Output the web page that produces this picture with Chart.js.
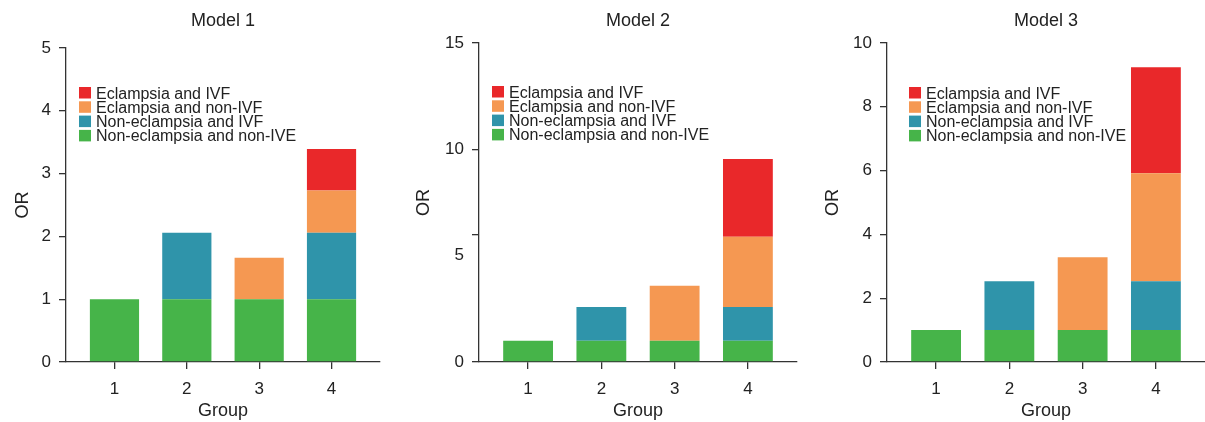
<!DOCTYPE html>
<html><head><meta charset="utf-8">
<script src="https://cdn.jsdelivr.net/npm/chart.js@4.4.1/dist/chart.umd.min.js"></script>
<style>
html,body{margin:0;padding:0;background:#fff;}
#wrap{position:relative;width:1205px;height:422px;overflow:hidden;background:#fff;}
canvas{position:absolute;top:0;}
</style></head><body>
<div id="wrap">
<canvas id="c1" width="400" height="422" style="left:0px"></canvas>
<canvas id="c2" width="400" height="422" style="left:400px"></canvas>
<canvas id="c3" width="405" height="422" style="left:800px"></canvas>
</div>
<script>
// ---- data ----
const groups = [1, 2, 3, 4];
const seriesNames = ['Non-eclampsia and non-IVE', 'Non-eclampsia and IVF', 'Eclampsia and non-IVF', 'Eclampsia and IVF'];
const seriesColors = ['#46b449', '#2f94aa', '#f59852', '#e9282a'];
const modelTitles = ['Model 1', 'Model 2', 'Model 3'];

// Model 1 stacked segments
const m1Green = [1, 1, 1, 1];
const m1Teal = [0, 1.06, 0, 1.06];
const m1Orange = [0, 0, 0.66, 0.67];
const m1Red = [0, 0, 0, 0.66];
const m1YTickLabels = [0, 1, 2, 3, 4, 5];
const m1YTickMarks = [0, 1, 2, 3, 4, 5];

// Model 2 stacked segments
const m2Green = [1, 1, 1, 1];
const m2Teal = [0, 1.59, 0, 1.59];
const m2Orange = [0, 0, 2.58, 3.30];
const m2Red = [0, 0, 0, 3.66];
const m2YTickLabels = [0, 5, 10, 15];
const m2YTickMarks = [0, 6, 10, 15];

// Model 3 stacked segments
const m3Green = [1, 1, 1, 1];
const m3Teal = [0, 1.53, 0, 1.53];
const m3Orange = [0, 0, 2.28, 3.39];
const m3Red = [0, 0, 0, 3.32];
const m3YTickLabels = [0, 2, 4, 6, 8, 10];
const m3YTickMarks = [0, 2, 4, 6, 8, 10];

// ---- rendering ----
const FONT = '"Liberation Sans", Arial, Helvetica, sans-serif';
Chart.defaults.font.family = FONT;
Chart.defaults.color = '#222';

const overlayLegend = {
  id: 'overlayLegend',
  afterDraw(chart, args, opts) {
    const {ctx, chartArea} = chart;
    const ds = chart.data.datasets.slice().reverse();
    ctx.save();
    ctx.font = '16px ' + FONT;
    ctx.textBaseline = 'alphabetic';
    ctx.textAlign = 'left';
    ds.forEach((d, i) => {
      const x = chartArea.left + opts.dx;
      const top = opts.top + i * opts.step;
      ctx.fillStyle = d.backgroundColor;
      ctx.fillRect(x, top, 12, 11.5);
      ctx.fillStyle = '#222';
      ctx.fillText(d.label, x + 17, top + 11.5);
    });
    ctx.restore();
  }
};

function makeChart(id, title, segs, yMax, tickLabels, tickMarks, L) {
  const allTicks = Array.from(new Set(tickLabels.concat(tickMarks))).sort((a, b) => a - b);
  const axisColor = '#333';
  return new Chart(document.getElementById(id), {
    type: 'bar',
    data: {
      labels: groups,
      datasets: segs.map((s, i) => ({
        label: seriesNames[i],
        data: s,
        backgroundColor: seriesColors[i],
        borderWidth: 0,
        barPercentage: 0.68,
        categoryPercentage: 1.0
      }))
    },
    options: {
      responsive: false,
      animation: false,
      layout: {padding: {left: 0, right: L.padRight, top: 0, bottom: 0}},
      plugins: {
        legend: {display: false},
        tooltip: {enabled: false},
        title: {
          display: true, text: title, fullSize: false,
          font: {size: 18, weight: 'normal'}, color: '#222',
          padding: {top: 10, bottom: L.titleBottom}
        },
        overlayLegend: {dx: L.legDx, top: L.legTop, step: 14.3}
      },
      scales: {
        x: {
          type: 'linear', stacked: true, min: 0.33, max: 4.67, offset: false,
          afterBuildTicks: sc => { sc.ticks = groups.map(v => ({value: v})); },
          afterFit: sc => { sc.height = 60; },
          ticks: {includeBounds: false, font: {size: 17}, color: '#222', padding: 10, callback: v => String(v)},
          grid: {display: true, offset: false, drawOnChartArea: false, drawTicks: true, tickLength: 7, color: axisColor, lineWidth: 1.3},
          border: {display: true, color: axisColor, width: 1.3},
          title: {display: true, text: 'Group', font: {size: 18}, color: '#222', padding: {top: 0, bottom: 0}}
        },
        y: {
          type: 'linear', stacked: true, min: 0, max: yMax,
          afterBuildTicks: sc => { sc.ticks = allTicks.map(v => ({value: v})); },
          afterFit: sc => { sc.width = L.yWidth; },
          ticks: {font: {size: 17}, color: '#222', padding: 8,
                  callback: v => tickLabels.includes(v) ? String(v) : ''},
          grid: {display: true, drawOnChartArea: false, drawTicks: true, tickLength: 7,
                 color: c => (c.tick && !tickMarks.includes(c.tick.value)) ? 'rgba(0,0,0,0)' : axisColor,
                 lineWidth: 1.3},
          border: {display: true, color: axisColor, width: 1.3},
          title: {display: true, text: 'OR', font: {size: 18}, color: '#222', padding: {top: L.orPad, bottom: 0}}
        }
      }
    },
    plugins: [overlayLegend]
  });
}

makeChart('c1', modelTitles[0], [m1Green, m1Teal, m1Orange, m1Red], 5, m1YTickLabels, m1YTickMarks,
  {padRight: 20, titleBottom: 16.4, legDx: 13, legTop: 87, yWidth: 66, orPad: 12});
makeChart('c2', modelTitles[1], [m2Green, m2Teal, m2Orange, m2Red], 15, m2YTickLabels, m2YTickMarks,
  {padRight: 3, titleBottom: 11.4, legDx: 13, legTop: 86, yWidth: 79, orPad: 13});
makeChart('c3', modelTitles[2], [m3Green, m3Teal, m3Orange, m3Red], 10, m3YTickLabels, m3YTickMarks,
  {padRight: 0, titleBottom: 11.4, legDx: 22, legTop: 87, yWidth: 87, orPad: 22});
</script>
</body></html>
